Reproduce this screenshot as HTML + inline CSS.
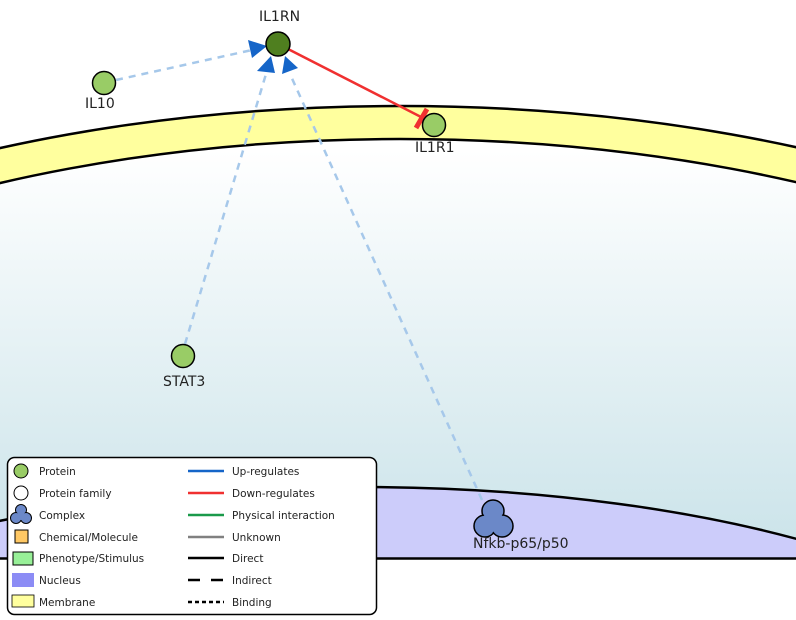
<!DOCTYPE html>
<html><head><meta charset="utf-8"><style>
html,body{margin:0;padding:0;width:796px;height:620px;overflow:hidden;background:#fff;font-family:"DejaVu Sans","Liberation Sans",sans-serif}
svg{display:block}
</style></head><body>
<svg width="796" height="620" viewBox="0 0 796 620" xmlns="http://www.w3.org/2000/svg" font-family="DejaVu Sans, Liberation Sans, sans-serif">
<defs>
<linearGradient id="cg" gradientUnits="userSpaceOnUse" x1="0" y1="150" x2="0" y2="540">
<stop offset="0" stop-color="#ffffff"/><stop offset="1" stop-color="#cce4ea"/></linearGradient>
<clipPath id="c"><rect x="0" y="0" width="796" height="559"/></clipPath>
</defs>
<g clip-path="url(#c)">
<ellipse cx="400" cy="510" rx="900" ry="404" fill="#ffff9e" stroke="#000" stroke-width="2.5"/>
<ellipse cx="400" cy="562" rx="900" ry="423" fill="url(#cg)" stroke="#000" stroke-width="2.5"/>
<ellipse cx="360" cy="725" rx="700" ry="238" fill="#ccccfa" stroke="#000" stroke-width="2.5"/>
</g>
<line x1="0" y1="558.5" x2="796" y2="558.5" stroke="#000" stroke-width="2.5"/>
<g stroke="#a6c8ea" stroke-width="2.5" stroke-dasharray="7,6" fill="none">
<line x1="116" y1="80" x2="252" y2="50"/>
<line x1="185" y1="344" x2="266" y2="74"/>
<line x1="482" y1="500" x2="290" y2="74"/>
</g>
<g fill="#1565c8">
<polygon points="267,46 248,40 252,58"/>
<polygon points="271,56 257,71 275,73"/>
<polygon points="285,56 282,74 298,68"/>
</g>
<line x1="288" y1="49" x2="423" y2="118" stroke="#f03030" stroke-width="2.5"/>
<line x1="416" y1="128" x2="427" y2="109" stroke="#f03030" stroke-width="5"/>
<g stroke="#000" stroke-width="1.5">
<circle cx="278" cy="44" r="12" fill="#4f7f1f"/>
<circle cx="104" cy="83" r="11.5" fill="#99cc66"/>
<circle cx="434" cy="125" r="11.5" fill="#99cc66"/>
<circle cx="183" cy="356" r="11.5" fill="#99cc66"/>
<g fill="#6b88c8"><circle cx="493" cy="511" r="11"/><circle cx="485" cy="526" r="11"/><circle cx="502" cy="526" r="11"/></g>
</g>
<g fill="#6b88c8"><circle cx="493" cy="511" r="10"/><circle cx="485" cy="526" r="10"/><circle cx="502" cy="526" r="10"/><circle cx="493" cy="522" r="9"/></g>
<g font-size="14" fill="#222">
<text x="259" y="21">IL1RN</text>
<text x="85" y="108">IL10</text>
<text x="415" y="152">IL1R1</text>
<text x="163" y="386">STAT3</text>
<text x="473" y="548">Nfkb-p65/p50</text>
</g>
<rect x="7.5" y="457.5" width="369" height="157" rx="7" fill="#fff" stroke="#000" stroke-width="1.5"/>
<g font-size="10.5" fill="#222">
<circle cx="21" cy="471" r="7" fill="#99cc66" stroke="#000"/><text x="39" y="475">Protein</text>
<circle cx="21" cy="493" r="7" fill="#fff" stroke="#000"/><text x="39" y="497">Protein family</text>
<g fill="#6b88c8" stroke="#000"><circle cx="21" cy="510" r="5.5"/><circle cx="16" cy="518" r="5.5"/><circle cx="26" cy="518" r="5.5"/></g>
<g fill="#6b88c8"><circle cx="21" cy="510" r="4.7"/><circle cx="16" cy="518" r="4.7"/><circle cx="26" cy="518" r="4.7"/><circle cx="21" cy="516" r="4"/></g><text x="39" y="519">Complex</text>
<rect x="15" y="530" width="13" height="13" fill="#ffc864" stroke="#000"/><text x="39" y="541">Chemical/Molecule</text>
<rect x="13" y="552" width="20" height="13" fill="#98f098" stroke="#000"/><text x="39" y="562">Phenotype/Stimulus</text>
<rect x="12" y="573" width="22" height="14" fill="#8c8cf5"/><text x="39" y="584">Nucleus</text>
<rect x="12" y="595" width="22" height="12" fill="#ffff9e" stroke="#000" stroke-width="0.8"/><text x="39" y="606">Membrane</text>
<line x1="188" y1="471" x2="224" y2="471" stroke="#1565c8" stroke-width="2.5"/><text x="232" y="475">Up-regulates</text>
<line x1="188" y1="493" x2="224" y2="493" stroke="#f03030" stroke-width="2.5"/><text x="232" y="497">Down-regulates</text>
<line x1="188" y1="515" x2="224" y2="515" stroke="#1a9a4a" stroke-width="2.5"/><text x="232" y="519">Physical interaction</text>
<line x1="188" y1="537" x2="224" y2="537" stroke="#808080" stroke-width="2.5"/><text x="232" y="541">Unknown</text>
<line x1="188" y1="558" x2="224" y2="558" stroke="#000" stroke-width="2.5"/><text x="232" y="562">Direct</text>
<line x1="188" y1="580" x2="224" y2="580" stroke="#000" stroke-width="2.5" stroke-dasharray="12,11"/><text x="232" y="584">Indirect</text>
<line x1="188" y1="602" x2="224" y2="602" stroke="#000" stroke-width="2.5" stroke-dasharray="4,3"/><text x="232" y="606">Binding</text>
</g>
</svg>
</body></html>
